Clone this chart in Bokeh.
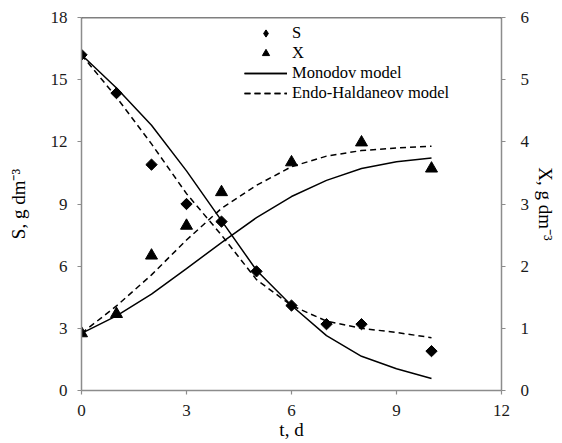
import numpy as np
from bokeh.plotting import figure
from bokeh.models import (Range1d, LinearAxis, FixedTicker, Legend,
                          LegendItem, Span)
from bokeh.embed import file_html
from bokeh.resources import INLINE

# ---- data ----
t_S = [0, 1, 2, 3, 4, 5, 6, 7, 8, 10]
S_obs = [16.2, 14.35, 10.9, 9.0, 8.15, 5.75, 4.1, 3.2, 3.2, 1.9]

t_X = [0, 1, 2, 3, 4, 6, 8, 10]
X_obs = [0.92, 1.23, 2.17, 2.65, 3.19, 3.67, 3.99, 3.57]

t_model = [0, 1, 2, 3, 4, 5, 6, 7, 8, 9, 10]
S_monod = [16.2, 14.6, 12.8, 10.6, 8.2, 5.8, 4.1, 2.65, 1.65, 1.05, 0.58]
S_endo = [16.2, 14.15, 11.9, 9.5, 7.5, 5.35, 4.1, 3.35, 3.0, 2.8, 2.55]
X_monod = [0.92, 1.2, 1.55, 1.96, 2.38, 2.78, 3.12, 3.38, 3.57, 3.68, 3.74]
X_endo = [0.92, 1.36, 1.86, 2.42, 2.93, 3.3, 3.6, 3.77, 3.86, 3.9, 3.93]

x_ticks = [0, 3, 6, 9, 12]
s_ticks = [0, 3, 6, 9, 12, 15, 18]
x_axis_ticks = [0, 1, 2, 3, 4, 5, 6]
T_MAX, S_MAX, X_MAX = 12, 18, 6

x_title = "t, d"
s_title = "S, g dm\u207b\u00b3"
xr_title = "X, g dm\u207b\u00b3"

FONT = "Liberation Serif"
AXIS_GRAY = "#8c8c8c"

p = figure(width=562, height=442, x_range=Range1d(0, T_MAX), y_range=Range1d(0, S_MAX),
           output_backend="svg", toolbar_location=None,
           min_border_left=81, min_border_right=61, min_border_top=17, min_border_bottom=52)
p.extra_y_ranges = {"xr": Range1d(0, X_MAX)}
p.grid.visible = False
p.outline_line_color = None
p.background_fill_color = "white"
p.border_fill_color = "white"

right_axis = LinearAxis(y_range_name="xr")
p.add_layout(right_axis, "right")

def style(ax, ticks, standoff, title, title_standoff):
    ax.ticker = FixedTicker(ticks=ticks)
    ax.minor_tick_line_color = None
    ax.axis_line_color = AXIS_GRAY
    ax.axis_line_width = 1.5
    ax.major_tick_line_color = AXIS_GRAY
    ax.major_tick_line_width = 1.2
    ax.major_tick_in = 0
    ax.major_tick_out = 4
    ax.major_label_standoff = standoff
    ax.major_label_text_font = FONT
    ax.major_label_text_font_size = "17px"
    ax.major_label_text_color = "#1a1a1a"
    ax.axis_label = title
    ax.axis_label_standoff = title_standoff
    ax.axis_label_text_font = FONT
    ax.axis_label_text_font_size = "19px"
    ax.axis_label_text_font_style = "normal"
    ax.axis_label_text_color = "black"

style(p.xaxis[0], x_ticks, 10, x_title, 0)
style(p.yaxis[0], s_ticks, 10, s_title, 19)
style(right_axis, x_axis_ticks, 15, xr_title, 3)

# top border line
p.add_layout(Span(location=S_MAX, dimension="width", line_color="black", line_width=1.5))

dash = "6 4"
m_s = p.line(t_model, S_monod, line_color="black", line_width=1.5)
m_x = p.line(t_model, X_monod, line_color="black", line_width=1.5, y_range_name="xr")
e_s = p.line(t_model, S_endo, line_color="black", line_width=1.5, line_dash=dash)
e_x = p.line(t_model, X_endo, line_color="black", line_width=1.5, line_dash=dash, y_range_name="xr")

# diamond used for the legend sample (hidden under the rotated squares)
s_leg = p.scatter(t_S, S_obs, marker="diamond", size=9,
                  fill_color="black", line_color="black")
s_pts = p.scatter(t_S, S_obs, marker="square", angle=np.pi / 4, size=8,
                  fill_color="black", line_color="black")
x_pts = p.scatter(t_X, X_obs, marker="triangle", size=12,
                  fill_color="black", line_color="black", y_range_name="xr")

legend = Legend(items=[
    LegendItem(label="S", renderers=[s_leg]),
    LegendItem(label="X", renderers=[x_pts]),
    LegendItem(label="Monodov model", renderers=[m_s, m_x]),
    LegendItem(label="Endo-Haldaneov model", renderers=[e_s, e_x]),
], location=(163, 287))
legend.glyph_width = 43
legend.glyph_height = 18
legend.label_height = 18
legend.spacing = 0
legend.padding = 0
legend.margin = 0
legend.label_standoff = 5
legend.border_line_color = None
legend.background_fill_alpha = 0
legend.label_text_font = FONT
legend.label_text_font_size = "16.5px"
legend.label_text_color = "black"
p.add_layout(legend)

open("out.html", "w").write(file_html(p, INLINE))
